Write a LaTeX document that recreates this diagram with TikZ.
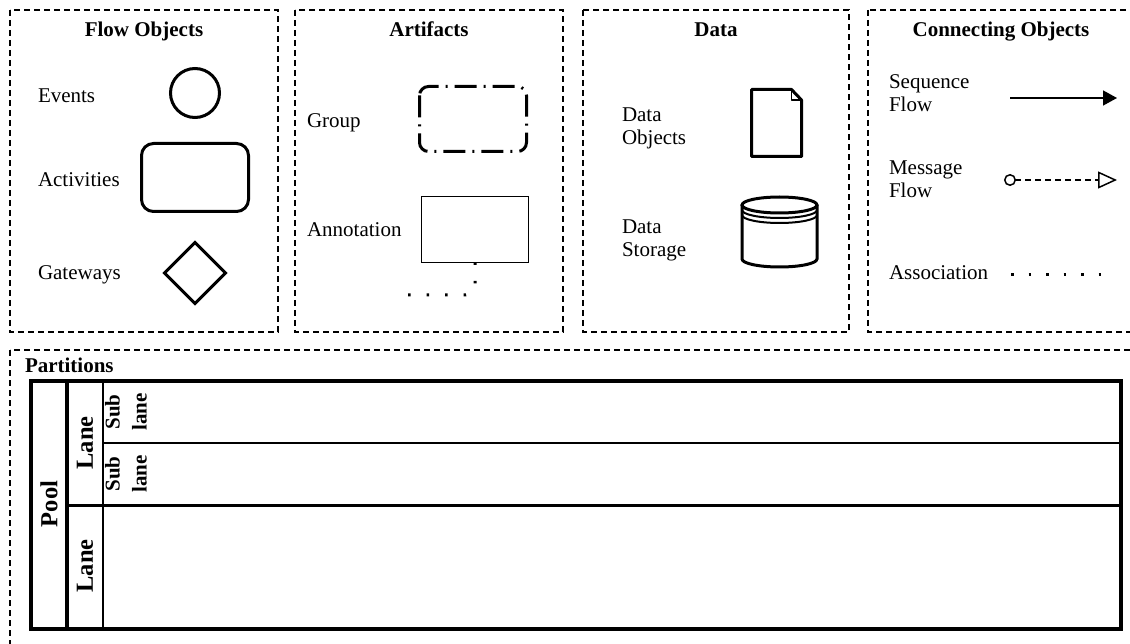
\documentclass[tikz,border=0pt]{standalone}
\usepackage{fontspec}
\setmainfont{Liberation Serif}
\usetikzlibrary{arrows.meta,shapes.geometric}

\begin{document}
\begin{tikzpicture}[x=1pt,y=-1pt,
  every node/.style={inner sep=0pt, outer sep=0pt},
  lbl/.style={font=\fontsize{21}{23}\selectfont, anchor=base west},
  mlbl/.style={font=\fontsize{21}{23}\selectfont, anchor=west, align=left},
  ttl/.style={font=\fontsize{21}{24}\selectfont\bfseries, anchor=base},
  vlbl/.style={font=\fontsize{24.5}{28}\selectfont\bfseries, rotate=90, align=center},
  sublbl/.style={font=\fontsize{21}{27}\selectfont\bfseries, rotate=90, align=center},
  panel/.style={draw, dash pattern=on 6pt off 4pt, line width=1.5pt},
  sym/.style={draw, line width=3pt},
  assoc/.style={line width=3pt, dash pattern=on 2.5pt off 16pt},
  flow/.style={line width=1.5pt},
]
\useasboundingbox (0,0) rectangle (1130,644);
\clip (0,0) rectangle (1130,644);

% ---------- category panels ----------
\draw[panel] (10,10) rectangle (278,332);
\draw[panel] (295,10) rectangle (563,332);
\draw[panel] (583,10) rectangle (849,332);
\draw[panel] (868,10) rectangle (1140,332);
\draw[panel] (10,350) rectangle (1140,670);

\node[ttl] (tflow) at (144,37) {Flow Objects};
\node[ttl] (tart)  at (429,37) {Artifacts};
\node[ttl] (tdata) at (716,37) {Data};
\node[ttl] (tconn) at (1001,37) {Connecting Objects};

% ---------- flow objects ----------
\node[lbl] (levt) at (38,103) {Events};
\node[lbl] (lact) at (38,187) {Activities};
\node[lbl] (lgw)  at (38,280) {Gateways};

\node[sym, circle, minimum size=49pt] (evt) at (195,93) {};
\node[sym, rectangle, rounded corners=12pt, minimum width=107pt, minimum height=68pt] (act) at (195,177.5) {};
\node[sym, diamond, aspect=1, minimum width=61pt, minimum height=61pt] (gw) at (195,273) {};

% ---------- artifacts ----------
\node[lbl] (lgrp) at (307,128) {Group};
\node[lbl] (lann) at (307,237) {Annotation};

\draw[line width=3pt, rounded corners=9pt, dash pattern=on 22pt off 7pt on 2pt off 7pt]
  (419.5,86.5) rectangle (526.5,151.5);

\node[draw, line width=1.5pt, minimum width=107pt, minimum height=66pt] (ann) at (475,229.5) {};
\coordinate (annend) at (400,295);
\draw[assoc, rounded corners=10pt] (ann.south) |- (annend);

% ---------- data ----------
\node[mlbl] (ldobj) at (622,128) {Data\\Objects};
\node[mlbl] (ldsto) at (622,240) {Data\\Storage};

% data object (page with folded corner)
\draw[sym, line join=round] (751.5,89.5) -- (791.5,89.5) -- (801.5,100) -- (801.5,156.5) -- (751.5,156.5) -- cycle;
\draw[line width=1.5pt, line join=round] (791.5,89.5) -- (791.5,100) -- (801.5,100);

% data storage (cylinder)
\draw[sym] (742,205) -- (742,259) arc[start angle=180, end angle=0, x radius=37.5, y radius=8] -- (817,205);
\draw[sym] (779.5,205) ellipse[x radius=37.5, y radius=8];
\draw[line width=2pt] (742,210) arc[start angle=180, end angle=0, x radius=37.5, y radius=8];
\draw[line width=2pt] (742,215) arc[start angle=180, end angle=0, x radius=37.5, y radius=8];

% ---------- connecting objects ----------
\node[mlbl] (lseq) at (889,93.5) {Sequence\\Flow};
\node[mlbl] (lmsg) at (889,179.5) {Message\\Flow};
\node[lbl]  (lasc) at (889,280) {Association};

\coordinate (sqs) at (1010,98);
\coordinate (sqe) at (1117,98);
\draw[flow, -{Triangle[length=14pt, width=15pt]}] (sqs) -- (sqe);

\coordinate (mss) at (1004,180);
\coordinate (mse) at (1117,180);
\draw[flow, dash pattern=on 6pt off 4pt,
  {Circle[open, length=12pt, width=12pt]}-{Triangle[open, length=19pt, width=17pt]}] (mss) -- (mse);

\coordinate (as1) at (1011,275);
\coordinate (as2) at (1104,275);
\draw[assoc, dash pattern=on 2.5pt off 15pt] (as1) -- (as2);

% ---------- partitions ----------
\node[font=\fontsize{21}{24}\selectfont\bfseries, anchor=base west] (tpart) at (25,372) {Partitions};

\draw[line width=2pt] (103.3,443) -- (1120.5,443);
\draw[line width=2.4pt] (67,505.3) -- (1120.5,505.3);
\draw[line width=2pt] (103.3,381) -- (103.3,629);
\draw[line width=3.5pt] (67,381) -- (67,629);
\draw[line width=4pt] (31.3,381) rectangle (1120.5,629);

\node[vlbl] (pool)  at (49,504) {Pool};
\node[vlbl] (lane1) at (85,443) {Lane};
\node[vlbl] (lane2) at (85,566) {Lane};
\node[sublbl] (sub1) at (126,412) {Sub\\lane};
\node[sublbl] (sub2) at (126,474) {Sub\\lane};
\end{tikzpicture}
\end{document}
